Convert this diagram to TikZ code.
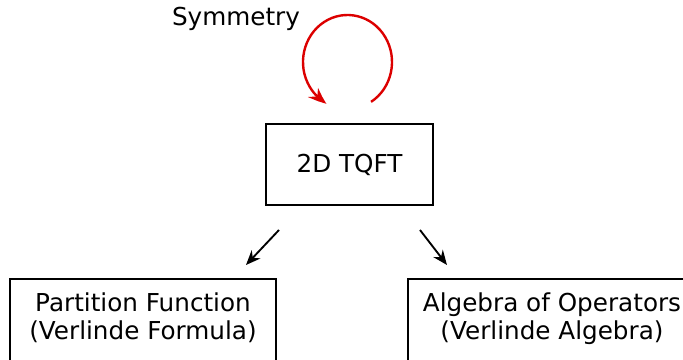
\documentclass[tikz,border=0pt]{standalone}
\usepackage{fontspec}
\setmainfont{DejaVu Sans}
\usetikzlibrary{arrows.meta,bending}
\definecolor{loopred}{RGB}{220,0,0}

\tikzset{
	box/.style={draw,thick,line width=1.5pt,align=center,inner sep=0pt},
	arr/.style={line width=1.4pt,-{Stealth[length=11pt,width=9pt]}},
	looparr/.style={loopred,line width=1.8pt,-{Stealth[length=13pt,width=10pt,bend]}}
}

\begin{document}
\begin{tikzpicture}[x=0.75pt,y=0.75pt,font=\fontsize{18.5}{21}\selectfont]
			\useasboundingbox (0,0) rectangle (683,360);
			\clip (0,0) rectangle (683,360);
			
			\node [box,minimum width=125.25pt,minimum height=60.75pt] (tqft) at (349.5,195.5) {2D TQFT};
			\node [box,anchor=north,minimum width=199.5pt,minimum height=61.9pt,text depth=5.5pt] (pf) at (143,82) {Partition Function\\(Verlinde Formula)};
			\node [box,anchor=north,minimum width=216pt,minimum height=61.9pt,text depth=5.5pt] (alg) at (552,82) {Algebra of Operators\\(Verlinde Algebra)};
			\node [anchor=base] (sym) at (236,334) {Symmetry};
			
			\coordinate (l1) at (279,130);
			\coordinate (l2) at (246,95);
			\coordinate (r1) at (420,130);
			\coordinate (r2) at (447,95);
			\draw[arr] (l1)--(l2);
			\draw[arr] (r1)--(r2);
			
			\draw[looparr] (347.5,298) ++(-58:44.5 and 47) arc[start angle=-58,end angle=242,x radius=44.5,y radius=47];
		\end{tikzpicture}
\end{document}
